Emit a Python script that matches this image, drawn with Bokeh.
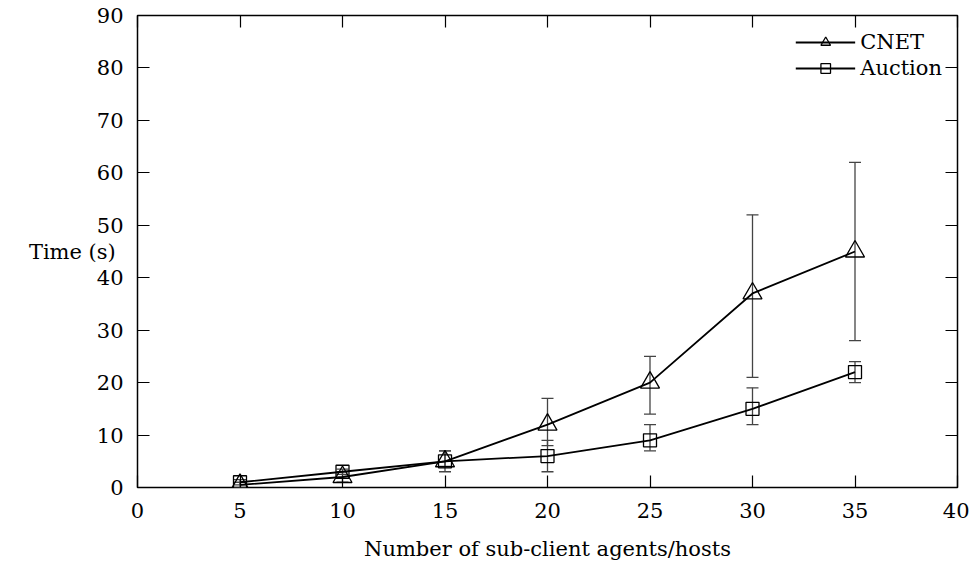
from bokeh.plotting import figure
from bokeh.models import (ColumnDataSource, Whisker, TeeHead, LinearAxis, Range1d,
                          Legend, LegendItem, FixedTicker, CustomJSTickFormatter)
from bokeh.embed import file_html
from bokeh.resources import INLINE

# ---- data ----
hosts = [5, 10, 15, 20, 25, 30, 35]
cnet_mean = [0.5, 2, 5, 12, 20, 37, 45]
cnet_low = [0, 1, 3, 8, 14, 21, 28]
cnet_high = [1, 3, 7, 17, 25, 52, 62]
auction_mean = [1, 3, 5, 6, 9, 15, 22]
auction_low = [0.5, 2.5, 4, 3, 7, 12, 20]
auction_high = [1.5, 3.5, 7, 9, 12, 19, 24]
x_ticks = [0, 5, 10, 15, 20, 25, 30, 35, 40]
y_ticks = [0, 10, 20, 30, 40, 50, 60, 70, 80, 90]

FONT = "DejaVu Serif"
FS = "21px"

p = figure(width=969, height=568, output_backend="svg", toolbar_location=None,
           x_range=Range1d(0, 40), y_range=Range1d(0, 90),
           min_border_left=137, min_border_right=12, min_border_top=15, min_border_bottom=81)
p.xgrid.visible = False
p.ygrid.visible = False
p.outline_line_color = "black"
p.outline_line_width = 1.5
p.background_fill_color = "white"
p.border_fill_color = "white"

def style_axis(ax, labels=True):
    ax.major_tick_in = 12
    ax.major_tick_out = 0
    ax.minor_tick_line_color = None
    ax.major_tick_line_color = "black"
    ax.major_tick_line_width = 1.2
    ax.axis_line_color = None
    ax.major_label_text_font = FONT
    ax.major_label_text_font_size = FS
    ax.major_label_text_color = "black"
    if not labels:
        ax.formatter = CustomJSTickFormatter(code="return ''")
        ax.major_label_standoff = 0

p.xaxis.ticker = FixedTicker(ticks=x_ticks)
p.yaxis.ticker = FixedTicker(ticks=y_ticks)
style_axis(p.xaxis[0])
style_axis(p.yaxis[0])
p.xaxis.major_label_standoff = 15
p.yaxis.major_label_standoff = 14
for ax, lab in ((p.xaxis[0], "Number of sub-client agents/hosts"), (p.yaxis[0], "Time (s)")):
    ax.axis_label = lab
    ax.axis_label_text_font = FONT
    ax.axis_label_text_font_size = FS
    ax.axis_label_text_font_style = "normal"
    ax.axis_label_text_color = "black"
p.xaxis.axis_label_standoff = 16
p.yaxis.axis_label_orientation = "horizontal"
p.yaxis.axis_label_standoff = -22

rax = LinearAxis(ticker=FixedTicker(ticks=y_ticks))
style_axis(rax, labels=False)
p.add_layout(rax, "right")
tax = LinearAxis(ticker=FixedTicker(ticks=x_ticks))
style_axis(tax, labels=False)
p.add_layout(tax, "above")

cs = ColumnDataSource(dict(x=hosts, y=cnet_mean, lo=cnet_low, hi=cnet_high))
as_ = ColumnDataSource(dict(x=hosts, y=auction_mean, lo=auction_low, hi=auction_high))

EC = "#444444"
for src in (cs, as_):
    w = Whisker(base="x", lower="lo", upper="hi", source=src, line_color=EC, line_width=1.3,
                upper_head=TeeHead(size=12, line_color=EC, line_width=1.3),
                lower_head=TeeHead(size=12, line_color=EC, line_width=1.3))
    p.add_layout(w)

l1 = p.line("x", "y", source=cs, line_color="black", line_width=1.8)
m1 = p.scatter("x", "y", source=cs, marker="triangle", size=19, fill_color=None,
               line_color="black", line_width=1.3)
l2 = p.line("x", "y", source=as_, line_color="black", line_width=1.8)
m2 = p.scatter("x", "y", source=as_, marker="square", size=13, fill_color=None,
               line_color="black", line_width=1.3)

legend = Legend(items=[LegendItem(label="CNET", renderers=[l1, m1]),
                       LegendItem(label="Auction", renderers=[l2, m2])],
                location="top_right", border_line_color=None, background_fill_alpha=0,
                label_text_font=FONT, label_text_font_size=FS, label_text_color="black",
                glyph_width=60, spacing=2, padding=4, margin=15,
                label_height=24, glyph_height=24)
p.add_layout(legend)

open("out.html", "w").write(file_html(p, INLINE))
